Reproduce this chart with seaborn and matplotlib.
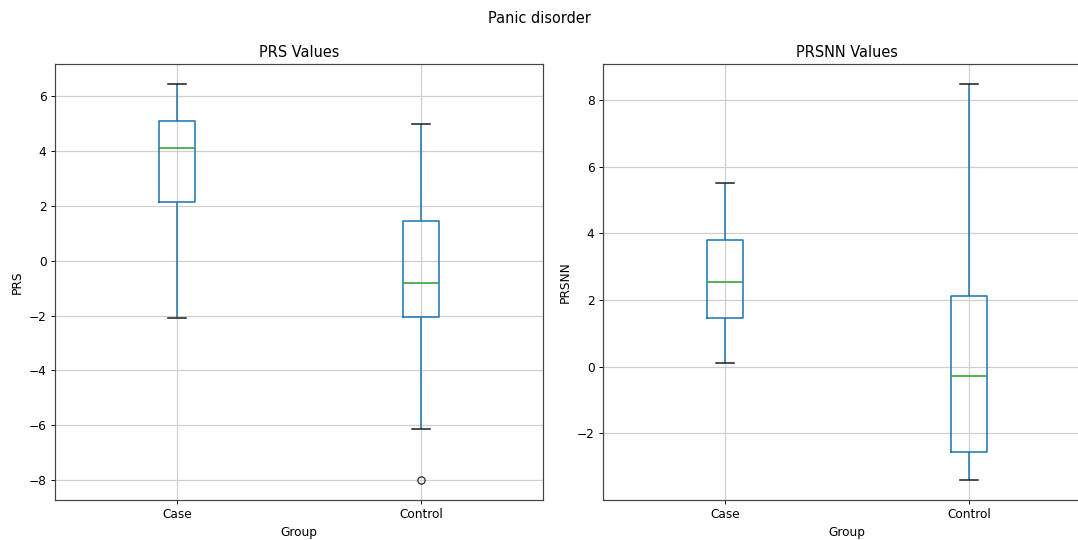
import numpy as np
import pandas as pd
import matplotlib
matplotlib.use("Agg")
import matplotlib.pyplot as plt
import seaborn as sns

prs_case = [-2.1, 2.15, 4.1, 5.1, 6.45]
prs_control = [-8.0, -6.15, -2.05, -1.5, -0.8, 0.4, 1.45, 3.0, 5.0]
prsnn_case = [0.1, 1.45, 2.55, 3.8, 5.5]
prsnn_control = [-3.4, -2.55, -0.28, 2.12, 8.48]
groups = ["Case", "Control"]

BLUE = "#1f77b4"
GREEN = "#2ca02c"
LW = 1.3


def long_frame(case_vals, control_vals, col):
    return pd.DataFrame({
        "Group": [groups[0]] * len(case_vals) + [groups[1]] * len(control_vals),
        col: case_vals + control_vals,
    })


def draw_box(ax, df, col):
    sns.boxplot(data=df, x="Group", y=col, order=groups, ax=ax,
                width=0.15, fill=False, color=BLUE, saturation=1,
                linewidth=LW, whis=1.5,
                boxprops={"color": BLUE, "linewidth": LW},
                medianprops={"color": GREEN, "linewidth": LW},
                capprops={"color": "#222222", "linewidth": LW},
                whiskerprops={"color": BLUE, "linewidth": LW},
                flierprops={"marker": "o", "markeredgecolor": "#222222",
                            "markerfacecolor": "none", "markersize": 6})
    ax.grid(True, color="#cfcfcf", linewidth=1.0)
    ax.set_axisbelow(True)
    for sp in ax.spines.values():
        sp.set_color("#444444")
        sp.set_linewidth(1.0)
    ax.set_title(f"{col} Values")
    ax.set_xlabel("Group")
    ax.set_ylabel(col)


dpi = 87
fig = plt.figure(figsize=(1078 / dpi, 540 / dpi), dpi=dpi)
ax1 = fig.add_axes([55 / 1078, 40 / 540, 488 / 1078, 436 / 540])
ax2 = fig.add_axes([603 / 1078, 40 / 540, 488 / 1078, 436 / 540])

draw_box(ax1, long_frame(prs_case, prs_control, "PRS"), "PRS")
draw_box(ax2, long_frame(prsnn_case, prsnn_control, "PRSNN"), "PRSNN")

fig.suptitle("Panic disorder")
fig.savefig("out.png", dpi=dpi)
